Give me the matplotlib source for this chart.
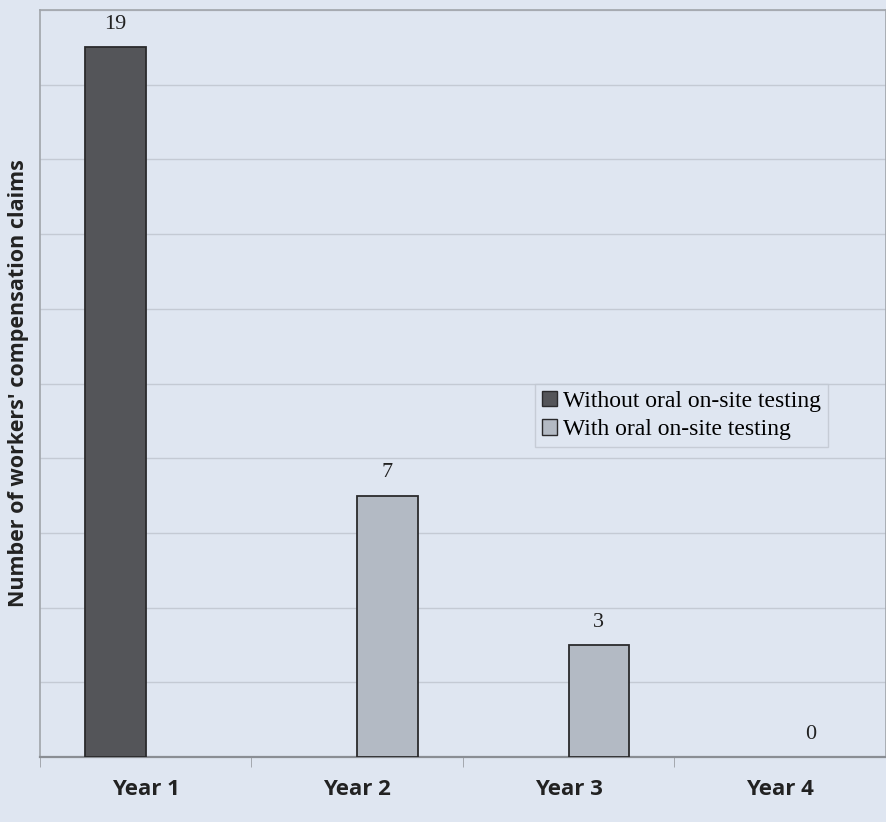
import numpy as np
import matplotlib.pyplot as plt
from matplotlib.patches import Patch

# Data
years = ['Year 1', 'Year 2', 'Year 3', 'Year 4']
without_testing = [19, None, None, None]
with_testing = [None, 7, 3, 0]
series_names = ['Without oral on-site testing', 'With oral on-site testing']

bg = '#dfe6f1'
dark = '#545559'
light = '#b3bac4'
sans = ['Open Sans', 'DejaVu Sans']

fig = plt.figure(figsize=(8.86, 8.22), dpi=100)
fig.patch.set_facecolor(bg)
ax = fig.add_axes([0.0451, 0.0791, 0.9549, 0.9087])
ax.set_facecolor(bg)

x = np.arange(len(years))
w = 0.285

for vals, off, col in [(without_testing, -w / 2, dark), (with_testing, w / 2, light)]:
    for xi, v in zip(x, vals):
        if v is None:
            continue
        if v > 0:
            ax.bar(xi + off, v, width=w, color=col, edgecolor='#2a2a2c', linewidth=1.3, zorder=3)
        ax.text(xi + off, v + 0.35, str(v), ha='center', va='bottom',
                fontsize=16, family='Liberation Serif', color='#222222')

ax.set_xlim(-0.5, 3.5)
ax.set_ylim(0, 20)
ax.set_yticks(np.arange(0, 21, 2))
ax.set_yticklabels([])
ax.tick_params(axis='y', length=0)
ax.grid(axis='y', color='#c4cad4', linewidth=1, zorder=0)

ax.set_xticks(x)
ax.set_xticklabels(years, fontsize=16, fontweight='bold', family=sans, color='#222222')
ax.set_xticks(np.arange(-0.5, 3.6, 1), minor=True)
ax.tick_params(axis='x', which='major', length=0, pad=16)
ax.tick_params(axis='x', which='minor', length=7, color='#9a9ea4')

for s in ['left', 'top', 'right']:
    ax.spines[s].set_color('#a0a4aa')
    ax.spines[s].set_linewidth(1.2)
ax.spines['bottom'].set_color('#8a8e94')
ax.spines['bottom'].set_linewidth(1.6)

ax.set_ylabel("Number of workers' compensation claims", fontsize=15.5, fontweight='bold',
              family=sans, color='#222222')
ax.yaxis.set_label_coords(-0.013, 0.5)

handles = [Patch(facecolor=dark, edgecolor='#2a2a2c'), Patch(facecolor=light, edgecolor='#2a2a2c')]
leg = ax.legend(handles, series_names, loc='upper left', bbox_to_anchor=(0.585, 0.5),
                prop={'family': 'Liberation Serif', 'size': 17}, frameon=True, fancybox=False,
                handlelength=0.65, handleheight=0.65, handletextpad=0.25, borderpad=0.3,
                labelspacing=0.3, borderaxespad=0)
leg.get_frame().set_facecolor(bg)
leg.get_frame().set_edgecolor('#c0c6d0')
leg.get_frame().set_linewidth(1)

fig.savefig('out.png', dpi=100, facecolor=bg)
